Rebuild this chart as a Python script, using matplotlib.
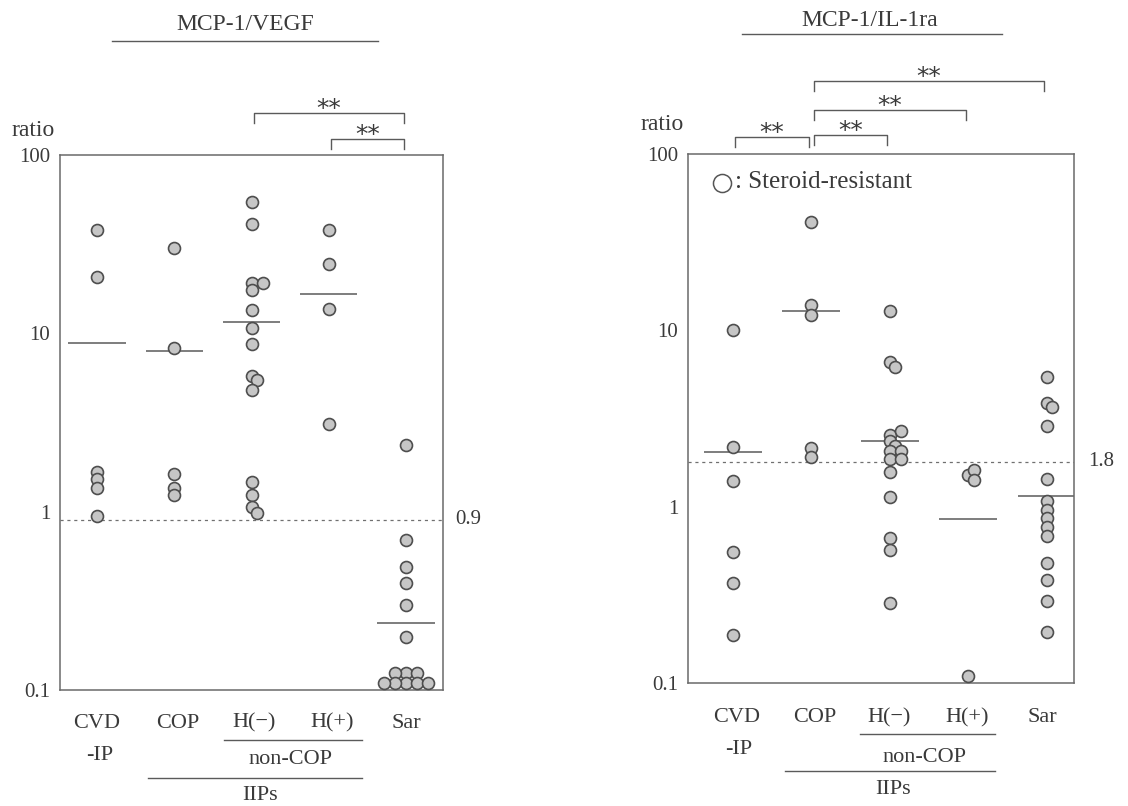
import numpy as np
import matplotlib
matplotlib.use("Agg")
import matplotlib.pyplot as plt
from matplotlib.ticker import NullLocator
from matplotlib.transforms import blended_transform_factory

W, H = 1128, 806
plt.rcParams["font.family"] = ["Liberation Serif", "DejaVu Serif"]
INK = "#3a3a3a"
LINE = "#5a5a5a"

groups = ["CVD\n-IP", "COP", "H(−)", "H(+)", "Sar"]

# MCP-1/VEGF ratio, one list per group
vegf_cvd = [38, 20.7, 1.67, 1.52, 1.36, 0.95]
vegf_cop = [30, 8.3, 1.63, 1.36, 1.24]
vegf_hneg = [54.6, 41, 19.2, 19.2, 17.5, 13.5, 10.7, 8.7, 5.8, 5.5, 4.8, 1.47, 1.24, 1.06, 0.98]
vegf_hpos = [38, 24.5, 13.7, 3.1]
vegf_sar = [2.37, 0.69, 0.49, 0.40, 0.30, 0.197,
            0.125, 0.125, 0.125, 0.11, 0.11, 0.11, 0.11, 0.11]
vegf_mean = [8.8, 8.0, 11.6, 16.6, 0.238]
vegf_cutoff = 0.9
vegf_sig = [(2, 4), (3, 4)]

# MCP-1/IL-1ra ratio, one list per group
il1ra_cvd = [10.1, 2.19, 1.39, 0.55, 0.37, 0.187]
il1ra_cop = [41, 13.9, 12.2, 2.16, 1.92]
il1ra_hneg = [12.9, 6.6, 6.2, 2.56, 2.67, 2.35, 2.2, 2.06, 2.06, 1.87, 1.87, 1.57,
              1.13, 0.667, 0.57, 0.285]
il1ra_hpos = [1.52, 1.62, 1.42, 0.109]
il1ra_sar = [5.43, 3.88, 3.69, 2.86, 1.44, 1.07, 0.96, 0.86, 0.77, 0.68,
             0.48, 0.385, 0.29, 0.195]
il1ra_mean = [2.03, 12.8, 2.37, 0.855, 1.155]
il1ra_cutoff = 1.8
il1ra_sig = [(0, 1), (1, 2), (1, 3), (1, 4)]


def fx(px):
    return px / W


def fy(py):
    return 1 - py / H


def swarm_x(ax, x0, vals, min_d=6.5, step=5.5):
    """Greedy horizontal dodge in pixel space so circles don't pile up."""
    pts = ax.transData.transform(np.column_stack([np.full(len(vals), float(x0)), vals]))
    inv = ax.transData.inverted()
    placed, out = [], []
    for px, py in pts:
        k = 0
        while True:
            off = step * ((k + 1) // 2) * (1 if k % 2 else -1)
            cx = px + off
            if all((cx - qx) ** 2 + (py - qy) ** 2 >= min_d ** 2 for qx, qy in placed):
                break
            k += 1
        placed.append((cx, py))
        out.append(inv.transform((cx, py))[0])
    return out


def draw_panel(ax, series, means, cutoff, xlim):
    ax.set_yscale("log")
    ax.set_xlim(*xlim)
    ax.set_ylim(0.1, 100)
    ax.set_xticks([])
    ax.set_yticks([0.1, 1, 10, 100])
    ax.set_yticklabels(["0.1", "1", "10", "100"])
    ax.yaxis.set_minor_locator(NullLocator())
    ax.tick_params(axis="y", length=0, pad=7, labelsize=15, labelcolor=INK)
    for sp in ax.spines.values():
        sp.set_color("#6a6a6a")
        sp.set_linewidth(1.1)

    for i, vals in enumerate(series):
        xs = swarm_x(ax, i, vals)
        ax.scatter(xs, vals, s=74, facecolor="#c6c6c6", edgecolor="#4e4e4e",
                   linewidth=1.2, zorder=3, clip_on=False)
    pos = np.arange(len(means))
    ax.hlines(means, pos - 0.37, pos + 0.37, color=LINE, lw=1.1, zorder=2)
    ax.axhline(cutoff, ls=(0, (2.5, 3)), lw=0.9, color="#707070", zorder=1)


def brackets(fig, ax, sig, tops, leg=10):
    tr = blended_transform_factory(ax.transData, fig.transFigure)
    for (a, b), top in zip(sig, tops):
        x0, x1 = a + 0.03, b - 0.03
        ax.plot([x0, x0, x1, x1], [fy(top + leg), fy(top), fy(top), fy(top + leg)],
                transform=tr, color=LINE, lw=1.0, clip_on=False)
        ax.text((x0 + x1) / 2, fy(top + 3), "**", transform=tr, ha="center",
                va="baseline", fontsize=18, color=INK, family="DejaVu Sans")


def group_labels(fig, ax, rows):
    tr = blended_transform_factory(ax.transData, fig.transFigure)
    for x, y, s in rows:
        ax.text(x, fy(y), s, transform=tr, ha="center", va="center",
                fontsize=16, color=INK)


def underline(fig, ax, x0, x1, y):
    tr = blended_transform_factory(ax.transData, fig.transFigure)
    ax.plot([x0, x1], [fy(y), fy(y)], transform=tr, color=LINE, lw=1.0, clip_on=False)


fig = plt.figure(figsize=(W / 100, H / 100), dpi=100)

# left panel: MCP-1/VEGF
ax1 = fig.add_axes([fx(60), fy(690), fx(443 - 60), (690 - 155) / H])
draw_panel(ax1, [vegf_cvd, vegf_cop, vegf_hneg, vegf_hpos, vegf_sar],
           vegf_mean, vegf_cutoff, (-0.48, 4.48))
brackets(fig, ax1, vegf_sig, [113, 139])
group_labels(fig, ax1, [(0, 723, "CVD"), (0.04, 755, "-IP"), (1.05, 723, groups[1]),
                        (2.03, 723, groups[2]), (3.05, 723, groups[3]),
                        (4.0, 723, groups[4]), (2.51, 760, "non-COP"),
                        (2.11, 795, "IIPs")])
underline(fig, ax1, 1.64, 3.43, 740)
underline(fig, ax1, 0.66, 3.43, 778)
fig.text(fx(245), fy(25), "MCP-1/VEGF", ha="center", va="center", fontsize=17, color=INK)
fig.add_artist(plt.Line2D([fx(112), fx(378)], [fy(41), fy(41)], color=LINE, lw=1.0))
fig.text(fx(33), fy(130), "ratio", ha="center", va="center", fontsize=17, color=INK)
fig.text(fx(455), fy(520), f"{vegf_cutoff}", ha="left", va="center", fontsize=15, color=INK)

# right panel: MCP-1/IL-1ra
ax2 = fig.add_axes([fx(688), fy(683), fx(1074 - 688), (683 - 154) / H])
draw_panel(ax2, [il1ra_cvd, il1ra_cop, il1ra_hneg, il1ra_hpos, il1ra_sar],
           il1ra_mean, il1ra_cutoff, (-0.57, 4.35))
brackets(fig, ax2, il1ra_sig, [137, 135, 110, 81])
group_labels(fig, ax2, [(0.05, 718, "CVD"), (0.07, 750, "-IP"), (1.04, 718, groups[1]),
                        (1.99, 718, groups[2]), (2.99, 718, groups[3]),
                        (3.95, 718, groups[4]), (2.45, 757, "non-COP"),
                        (2.04, 790, "IIPs")])
underline(fig, ax2, 1.62, 3.34, 734)
underline(fig, ax2, 0.66, 3.34, 771)
fig.text(fx(870), fy(20), "MCP-1/IL-1ra", ha="center", va="center", fontsize=17, color=INK)
fig.add_artist(plt.Line2D([fx(742), fx(1002)], [fy(34), fy(34)], color=LINE, lw=1.0))
fig.text(fx(662), fy(125), "ratio", ha="center", va="center", fontsize=17, color=INK)
fig.text(fx(1088), fy(462), f"{il1ra_cutoff}", ha="left", va="center", fontsize=15, color=INK)

# legend inside right panel
fig.add_artist(plt.Line2D([fx(722)], [fy(183)], marker="o", markersize=13,
                          markerfacecolor="white", markeredgecolor="#555555",
                          markeredgewidth=1.1, linestyle="none"))
fig.text(fx(735), fy(182), ": Steroid-resistant", ha="left", va="center",
         fontsize=18, color=INK)

fig.savefig("out.png", dpi=100)
